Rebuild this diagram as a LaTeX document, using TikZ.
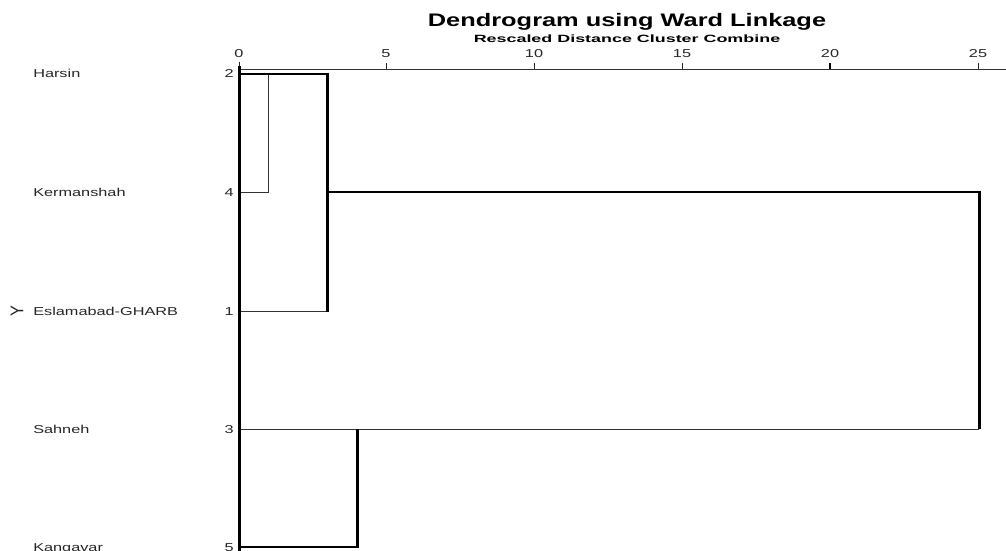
\documentclass[tikz,border=0pt]{standalone}
\usepackage{fontspec}
\setmainfont{Liberation Sans}
\newfontfamily\labfont[FakeStretch=1.42]{Liberation Sans}
\newfontfamily\titfont[FakeStretch=1.4]{Liberation Sans}
\newfontfamily\subfont[FakeStretch=1.7]{Liberation Sans}
\begin{document}
\begin{tikzpicture}[x=0.75pt,y=-0.75pt,
  tline/.style={line width=0.75pt, black!80},
  mline/.style={line width=1.5pt, black},
  hline/.style={line width=2.25pt, black},
  lab/.style={font=\labfont\fontsize{8.6pt}{10pt}\selectfont, inner sep=0pt, text=black!85},
  ticklab/.style={lab, anchor=base},
  tickmark/.style={line width=0.75pt, black!85}]
\useasboundingbox (0,0) rectangle (1006,550);
\clip (0,0) rectangle (1006,550);
% title
\node[font=\titfont\bfseries\fontsize{13.6pt}{15pt}\selectfont, inner sep=0pt, anchor=base] (title) at (627,26) {Dendrogram using Ward Linkage};
\node[font=\subfont\bfseries\fontsize{7.9pt}{9pt}\selectfont, inner sep=0pt, anchor=base] (subtitle) at (627,42.5) {Rescaled Distance Cluster Combine};
% axis
\coordinate (ax0) at (239,69);
\coordinate (axend) at (1006,69);
\draw[tline] (ax0) -- (axend);
\foreach \v/\xx in {0/239,5/386,10/534,15/682,20/830,25/978}{
  \node[ticklab] (t\v) at (\xx,57) {\v};
  \coordinate (tk\v) at (\xx,63);
  \coordinate (tb\v) at (\xx,69);
}
\draw[tickmark] (239,62) -- (tb0);
\draw[tickmark] (tk5) -- (tb5);
\draw[tickmark] (tk10) -- (tb10);
\draw[tickmark] (tk15) -- (tb15);
\draw[line width=1.5pt] (tk20) -- (tb20);
\draw[tickmark] (tk25) -- (tb25);
% leaves
\coordinate (L2) at (239,73.5);
\coordinate (L4) at (239,192);
\coordinate (L1) at (239,311);
\coordinate (L3) at (239,429);
\coordinate (L5) at (239,547);
\foreach \n/\yy/\name in {2/73.5/Harsin,4/192/Kermanshah,1/311/Eslamabad-GHARB,3/429/Sahneh,5/547/Kangavar}{
  \node[lab, anchor=base west] (name\n) at (33,\yy+4) {\name};
  \node[lab, anchor=base east] (num\n) at (234,\yy+4) {\n};
}
\node[lab, inner sep=0pt] (ylab) at (17,311) {\scalebox{1.6}[1]{\rotatebox{90}{Y}}};
% joins
\coordinate (top) at (239,66);
\coordinate (bot) at (239,552);
\coordinate (A1) at (268,73.5);
\coordinate (A2) at (268,192);
\coordinate (B1) at (327,73.5);
\coordinate (B2) at (327,192);
\coordinate (B3) at (327,311);
\coordinate (C1) at (357,429);
\coordinate (C2) at (357,547);
\coordinate (D1) at (979,192);
\coordinate (D2) at (979,429);
% lines
\draw[tline] (A1) -- (A2) -- (L4);
\draw[tline] (B3) -- (L1);
\draw[tline] (D2) -- (L3);
\draw[mline] (L2) -- (B1);
\draw[mline] (B2) -- (D1);
\draw[mline] (C2) -- (L5);
\draw[hline] (top) -- (bot);
\draw[hline] ([yshift=0.6pt]B1) -- ([yshift=-0.6pt]B3);
\draw[hline] ([yshift=0.6pt]D1) -- ([yshift=-0.3pt]D2);
\draw[hline] (C1) -- ([yshift=-0.6pt]C2);
\end{tikzpicture}
\end{document}
